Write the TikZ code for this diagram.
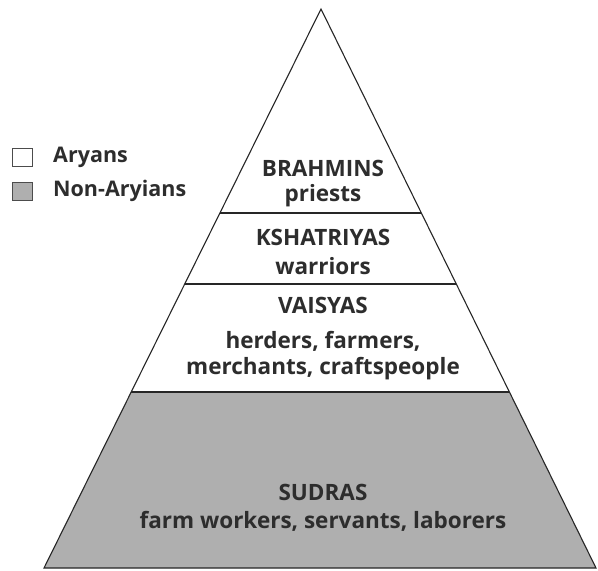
\documentclass[tikz,border=0pt]{standalone}
\usepackage{fontspec}
\setmainfont{Open Sans}
\definecolor{txt}{RGB}{45,45,45}
\definecolor{sudra}{RGB}{175,175,175}
\begin{document}
\begin{tikzpicture}[x=1pt,y=-1pt,
  lbl/.style={font=\fontsize{22.5}{27}\selectfont\bfseries, text=txt, align=center, inner sep=0pt},
  edge/.style={line width=1.1pt, black!85},
  keybox/.style={draw=black!70, line width=0.8pt, minimum width=20pt, minimum height=18pt, inner sep=0pt},
  keytxt/.style={font=\fontsize{21.5}{24}\selectfont\bfseries, text=txt, anchor=west, inner sep=0pt}]
\useasboundingbox (0,0) rectangle (598,571);
% pyramid geometry
\coordinate (apex) at (321,9);
\coordinate (bl) at (44,568);
\coordinate (br) at (596,568);
\path (apex) -- (bl) coordinate[pos=0.3649] (l1) coordinate[pos=0.4919] (l2) coordinate[pos=0.6852] (l3);
\path (apex) -- (br) coordinate[pos=0.3649] (r1) coordinate[pos=0.4919] (r2) coordinate[pos=0.6852] (r3);
% Sudra fill
\fill[sudra] (l3) -- (r3) -- (br) -- (bl) -- cycle;
% outline and dividers
\draw[edge, line join=miter] (apex) -- (br) -- (bl) -- cycle;
\draw[edge] (l1) -- (r1);
\draw[edge] (l2) -- (r2);
\draw[edge] (l3) -- (r3);
% labels
\node[lbl] (brahmins) at (323,168) {BRAHMINS};
\node[lbl] (priests) at (323,196) {priests};
\node[lbl] (kshatriyas) at (323,237) {KSHATRIYAS};
\node[lbl] (warriors) at (323,266) {warriors};
\node[lbl] (vaisyas) at (323,305) {VAISYAS};
\node[lbl] (herders) at (323,341) {herders, farmers,};
\node[lbl] (merchants) at (323,369) {merchants, craftspeople};
\node[lbl] (sudras) at (323,492) {SUDRAS};
\node[lbl] (workers) at (323,521) {farm workers, servants, laborers};
% legend
\node[keybox, fill=white] (aryanbox) at (22,157) {};
\node[keybox, fill=sudra] (nonaryanbox) at (22,191) {};
\node[keytxt] (aryans) at (53,157) {Aryans};
\node[keytxt] (nonaryans) at (53,191) {Non-Aryians};
\end{tikzpicture}
\end{document}
